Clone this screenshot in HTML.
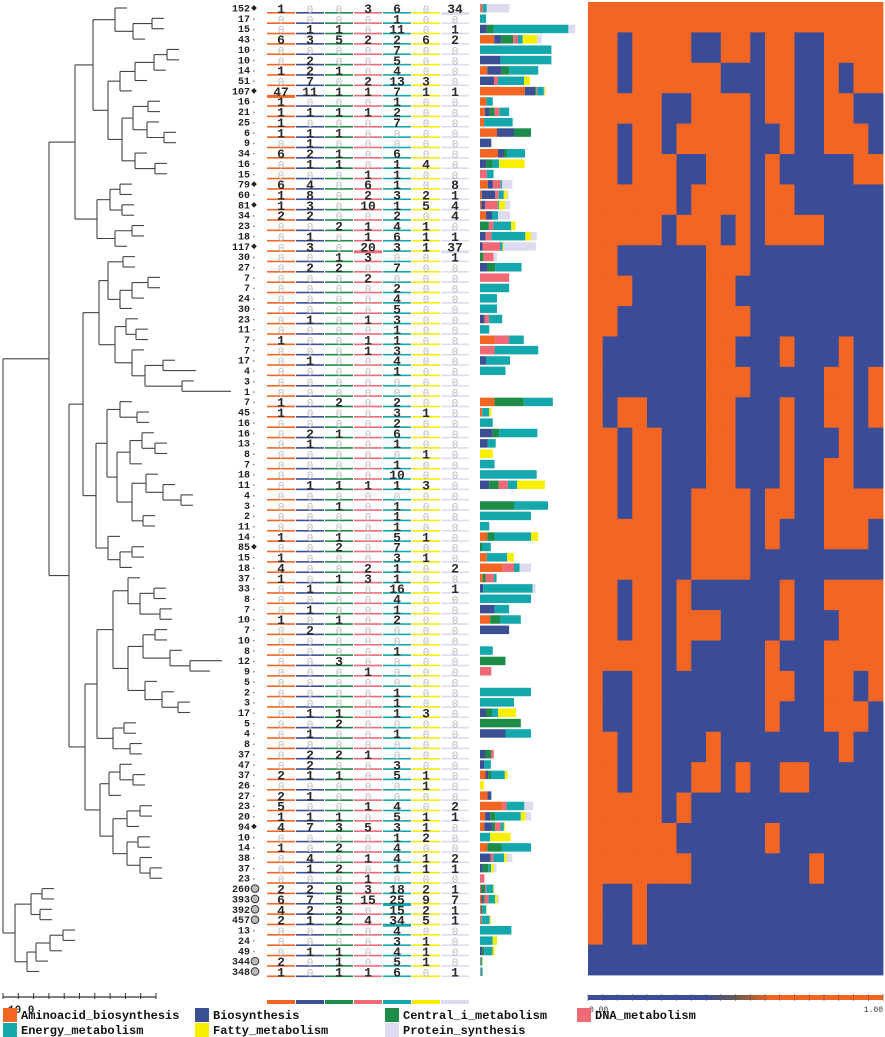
<!DOCTYPE html>
<html><head><meta charset="utf-8">
<style>
html,body{margin:0;padding:0;background:#fff;}
svg{display:block;}
text{font-family:"Liberation Mono","DejaVu Sans Mono",monospace;}
</style></head>
<body>
<svg id="fig" width="885" height="1037" viewBox="0 0 885 1037" xmlns="http://www.w3.org/2000/svg">
<rect x="0" y="0" width="885" height="1037" fill="#fff"/>
<g id="tree"></g>
<g id="table"></g>
<g id="bars"></g>
<g id="heat"></g>
<g id="legend"></g>
</svg>
<script>
const clusterSizes=[152,17,15,43,10,10,14,51,107,16,21,25,6,9,34,16,15,79,60,81,34,23,18,117,30,27,7,7,24,30,23,11,7,7,17,4,3,1,7,45,16,16,13,8,7,18,11,4,3,2,11,14,85,15,18,37,33,8,7,10,7,10,8,12,9,5,2,3,17,5,4,8,37,47,37,26,27,23,20,94,10,14,38,37,23,260,393,392,457,13,24,49,344,348];
const aminoacid=[1,0,0,6,0,0,1,0,47,1,1,1,1,0,6,0,0,6,1,1,2,0,0,0,0,0,0,0,0,0,0,0,1,0,0,0,0,0,1,1,0,0,0,0,0,0,0,0,0,0,0,1,0,1,4,1,0,0,0,1,0,0,0,0,0,0,0,0,0,0,0,0,0,0,2,0,2,5,1,4,0,1,0,0,0,2,6,4,2,0,0,0,2,1];
const biosynthesis=[0,0,1,3,0,2,2,7,11,0,1,0,1,1,2,1,0,4,8,3,2,0,1,3,0,2,0,0,0,0,1,0,0,0,1,0,0,0,0,0,0,2,1,0,0,0,1,0,0,0,0,0,0,0,0,0,1,0,1,0,2,0,0,0,0,0,0,0,1,0,1,0,2,2,1,0,1,0,1,7,0,0,4,1,0,2,7,2,1,0,0,1,0,0];
const centralMetab=[0,0,1,5,0,0,1,0,1,0,1,0,1,0,1,1,0,0,0,0,0,2,0,0,1,2,0,0,0,0,0,0,0,0,0,0,0,0,2,0,0,1,0,0,0,0,1,0,1,0,0,1,2,0,0,1,0,0,0,1,0,0,0,3,0,0,0,0,1,2,0,0,2,0,1,0,0,0,1,3,0,2,0,2,0,9,5,3,2,0,0,1,1,1];
const dnaMetab=[3,0,0,2,0,0,0,2,1,0,1,0,0,0,0,0,1,6,2,10,0,1,1,20,3,0,2,0,0,0,1,0,1,1,0,0,0,0,0,0,0,0,0,0,0,0,1,0,0,0,0,0,0,0,2,3,0,0,0,0,0,0,0,0,1,0,0,0,0,0,0,0,1,0,0,0,0,1,0,5,0,0,1,0,1,3,15,0,4,0,0,0,0,1];
const energyMetab=[6,1,11,2,7,5,4,13,7,1,2,7,0,0,6,1,1,1,3,1,2,4,6,3,0,7,0,2,4,5,3,1,1,3,4,1,0,0,2,3,2,6,1,0,1,10,1,0,1,1,1,5,7,3,1,1,16,4,1,2,0,0,1,0,0,0,1,1,1,0,1,0,0,3,5,0,0,4,5,3,1,4,4,1,0,18,25,15,34,4,3,4,5,6];
const fattyMetab=[0,0,0,6,0,0,0,3,1,0,0,0,0,0,0,4,0,0,2,5,0,1,1,1,0,0,0,0,0,0,0,0,0,0,0,0,0,0,0,1,0,0,0,1,0,0,3,0,0,0,0,1,0,1,0,0,0,0,0,0,0,0,0,0,0,0,0,0,3,0,0,0,0,0,1,1,0,0,1,1,2,0,1,1,0,2,9,2,5,0,1,1,1,0];
const proteinSynth=[34,0,1,2,0,0,0,0,1,0,0,0,0,0,0,0,0,8,1,4,4,0,1,37,1,0,0,0,0,0,0,0,0,0,0,0,0,0,0,0,0,0,0,0,0,0,0,0,0,0,0,0,0,0,2,0,1,0,0,0,0,0,0,0,0,0,0,0,0,0,0,0,0,0,0,0,0,2,1,0,0,0,2,1,0,1,7,1,1,0,0,0,0,1];
const categories=["Aminoacid_biosynthesis","Biosynthesis","Central_i_metabolism","DNA_metabolism","Energy_metabolism","Fatty_metabolism","Protein_synthesis"];
const diamondRows=[0,8,17,19,23,52,79];
const circleRows=[85,86,87,88,92,93];
const heatBands=[
"OOOOOOOOOOOOOOOOOOOO","OOBOOOOBBOOBOOBBOOOO","OOBOOOOOOBBBOOBBOBOO","OOOOOBBOOOOBOOBBOOBB",
"OOBOOBOOOOOBBOBBOOOB","OOBOOOBBOOOBOBBBBBOO","OOOOOOBOOOOBOOBBBBBB","OOOOOBOOOBOBOOOOBBBB",
"OOBBBBBBOOOBBBBBBBBB","OOOBBBBBOOBBBBBBBBBB","OOBBBBBBOOOBBBBBBBBB","OBBBBBBBOOBBBOBBBOBB",
"OBBBBBBBOOOBBBBBOOBO","OBOOBBBBOOBBBOBBOOBO","OOBOOBBBOOBBBOBBBOBB","OOBOOBBBOOBBBOBBOOBB",
"OOBOOBBOOOOBOOBBOOOO","OOOOOBBOOOOBOBBBOOOB","OOOOOBBOOOOBBBBBBBBB","OOBOOBOBBBBBBOBBOOOO",
"OOBOOBOOOBBBBOBBBOOO","OOOOOBOBBBBBOBBBOOOO","OBBOOBBBBBBBOOBBOOBO","OBBOOBBBBBBBOBBBOOOB",
"OOBOOBBBOBBBBBBBBOBB","OOBOOBBOOBOBBOOBBBBB","OOOOOBOBBBBBBBBBBBBB","OOOOOOBBBBBBOBBBBBBB",
"OOOOOOOBBBBBBBBOBBBB","OBBOBBBBBBBBBBBBBBBB","OBBOBBBBBBBBBBBBBBBB","BBBBBBBBBBBBBBBBBBBB"];
const colorbarTicks=["0.00","1.00"];

const NS="http://www.w3.org/2000/svg";
const catColors=["#f26522","#3b4f93","#1c8c48","#ef6a75","#14a7ab","#f7ee00","#dcdbef"];
const series=[aminoacid,biosynthesis,centralMetab,dnaMetab,energyMetab,fattyMetab,proteinSynth];
const rowY=i=>8+i*10.36;
const colX=j=>281+j*29;
function mk(tag,attrs,parent){const e=document.createElementNS(NS,tag);for(const k in attrs)e.setAttribute(k,attrs[k]);parent.appendChild(e);return e;}

// ---- Tree ----
const T_top=[75,
 [93,[115,0,[133,[152,1,2],3]],
     [108,[120,[135,[154,[167,4,5],6],7],8],[122,[133,[148,9,10],[147,11,[164,12,13]]],[135,14,[155,15,16]]]]],
 [97,[110,[120,17,18],[122,19,20]],[115,[132,21,22],23]]];
const T_D=[69,
 [83,
  [99,[108,[123,24,25],[120,[132,[148,26,27],28],29]],[115,[126,30,[136,31,32]],[132,33,[145,[163,34,35],[182,36,37]]]]],
  [96,[107,[120,38,[137,39,40]],[117,[130,[142,41,[155,42,43]],44],[132,[146,45,[163,46,[181,47,48]]],[143,49,50]]]],[108,51,[120,[132,52,53],54]]]],
 [85,
  [97,[113,[128,55,[140,[154,56,57],[160,58,59]]],[128,[143,[155,60,61],[170,62,[190,63,64]]],[145,65,[162,66,[178,67,68]]]]],[113,[124,69,70],[130,71,72]]],
  [100,[109,[120,73,[133,74,75]],76],[113,[127,[140,77,78],79],[127,[138,80,81],[140,82,[150,83,84]]]]]]];
const T_B=[15,[31,[42,85,86],[40,87,88]],[27,[36,[50,[63,89,90],91],92],93]];
const treeRoot=[3,[49,T_top,T_D],T_B];
const longTips={37:231,63:222,64:210,35:196};
const tg=document.getElementById('tree');
function lay(n,px){
  if(typeof n==='number'){const x=longTips[n]||(px+12);return {x:x,y:rowY(n)};}
  const x=n[0];const kids=n.slice(1).map(c=>lay(c,x));
  const ys=kids.map(k=>k.y);const y=(ys[0]+ys[ys.length-1])/2;
  const v=mk('line',{x1:x,y1:ys[0],x2:x,y2:ys[ys.length-1],stroke:'#444','stroke-width':1.1},tg);
  
  
  kids.forEach(k=>{const h=mk('line',{x1:x,y1:k.y,x2:k.x,y2:k.y,stroke:'#444','stroke-width':1.1},tg);
    
    });
  return {x:x,y:y};
}
lay(treeRoot,0);
// scale bar
const sb=mk('line',{x1:3,y1:997,x2:156,y2:997,stroke:'#333','stroke-width':1.2},tg);


for(let i=0;i<=10;i++){const t=mk('line',{x1:3+i*15.3,y1:993,x2:3+i*15.3,y2:999,stroke:'#333','stroke-width':1},tg);
 
 }
const sl=mk('text',{x:8,y:1013,'font-size':11,'font-weight':'bold',fill:'#222'},tg);sl.textContent='10.0';



// ---- Table ----
const tb=document.getElementById('table');
clusterSizes.forEach((n,i)=>{
  const y=rowY(i);
  const lab=mk('text',{x:250,y:y+3.5,'font-size':10,'font-weight':'bold','text-anchor':'end',fill:'#222'},tb);
  lab.textContent=n;
  
  
  if(diamondRows.includes(i)){const d=mk('rect',{x:252,y:y-2,width:4,height:4,fill:'#222',transform:`rotate(45 254 ${y})`},tb);
    
    }
  else if(circleRows.includes(i)){const c=mk('circle',{cx:255,cy:y,r:3.8,fill:'#bbb',stroke:'#333','stroke-width':1},tb);
    
    }
  else{const d=mk('rect',{x:253,y:y,width:1.5,height:1.5,fill:'#888'},tb);
    
    }
  series.forEach((s,j)=>{
    const v=s[i];const cx=colX(j);
    const ln=mk('rect',{x:cx-14,y:y+4,width:28,height:(v>=20?3:1.6),fill:catColors[j]},tb);
    
    
    const t=mk('text',{x:cx,y:y+5,'font-size':v?13:11,'font-weight':v?'bold':'normal','text-anchor':'middle',fill:v?'#2a2a2a':'#b8b8b8','font-family':'"Liberation Sans",sans-serif'},tb);
    t.textContent=v;
    
    
  });
});
catColors.forEach((c,j)=>{const r=mk('rect',{x:colX(j)-14,y:1000,width:28,height:4,fill:c},tb);
 
 });

// ---- Bars ----
const bg=document.getElementById('bars');
const barScale=102;
clusterSizes.forEach((n,i)=>{
  let x=480;const y=rowY(i)-4;
  series.forEach((s,j)=>{const w=s[i]/n*barScale;if(w<=0)return;
    const r=mk('rect',{x:x,y:y,width:w,height:8.5,fill:catColors[j]},bg);
    
    
    x+=w;});
});

// ---- Heatmap ----
const hg=document.getElementById('heat');
const hx0=588,hx1=883,hy0=2,hy1=975;
const cw=(hx1-hx0)/heatBands[0].length,ch=(hy1-hy0)/heatBands.length;
heatBands.forEach((row,r)=>{[...row].forEach((c,k)=>{
  const cell=mk('rect',{x:hx0+k*cw,y:hy0+r*ch,width:cw+0.4,height:ch+0.4,fill:c==='O'?'#f26522':'#3a4c98'},hg);
  
  
});});
const defs=mk('defs',{},hg);
const lg=mk('linearGradient',{id:'cb',x1:0,x2:1,y1:0,y2:0},defs);
mk('stop',{offset:'0','stop-color':'#3a4c98'},lg);mk('stop',{offset:'0.4','stop-color':'#3a4c98'},lg);
mk('stop',{offset:'0.5','stop-color':'#6a5a50'},lg);mk('stop',{offset:'0.62','stop-color':'#f26522'},lg);
mk('stop',{offset:'1','stop-color':'#f26522'},lg);
const cb=mk('rect',{x:588,y:995,width:295,height:5,fill:'url(#cb)'},hg);


for(let i=0;i<=20;i++){const t=mk('line',{x1:588+i*14.75,y1:994,x2:588+i*14.75,y2:1001,stroke:'#555','stroke-width':0.6},hg);
 
 }
colorbarTicks.forEach((s,i)=>{const t=mk('text',{x:i?883:589,y:1012,'font-size':8,'text-anchor':i?'end':'start',fill:'#333'},hg);
 t.textContent=s;
 
 });

// ---- Legend ----
const lgd=document.getElementById('legend');
const lpos=[[3,1018],[195,1018],[385,1018],[577,1018],[3,1033],[195,1033],[385,1033]];
categories.forEach((c,j)=>{const [x,y]=lpos[j];
  const s=mk('rect',{x:x,y:y-10,width:14,height:14,fill:catColors[j]},lgd);
  
  
  const t=mk('text',{x:x+18,y:y+1,'font-size':12,'font-weight':'bold',fill:'#111'},lgd);
  t.textContent=c;
  
  });
</script>
</body></html>
